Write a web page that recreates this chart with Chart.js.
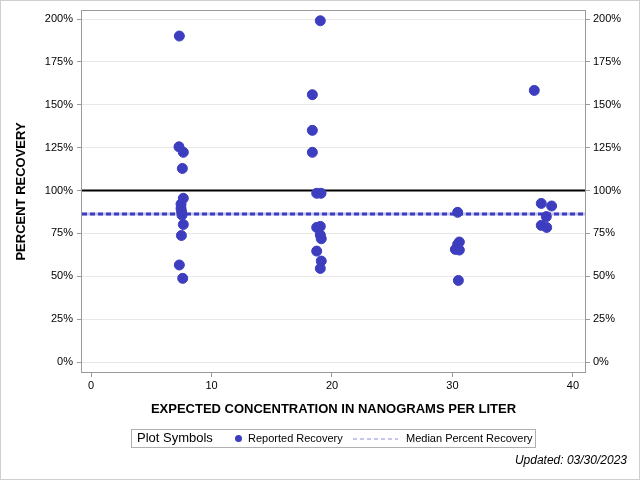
<!DOCTYPE html>
<html>
<head>
<meta charset="utf-8">
<script src="https://cdn.jsdelivr.net/npm/chart.js@4.4.0/dist/chart.umd.min.js"></script>
<style>
  html, body { margin: 0; padding: 0; background: #fff; }
  #wrap { width: 640px; height: 480px; position: relative; }
</style>
</head>
<body>
<div id="wrap"><canvas id="recoveryChart"></canvas></div>
<script>
// Expected concentration (ng/L) and percent recovery of each reported sample
const expectedConc = [
  7.33, 7.30, 7.66, 7.58, 7.66, 7.47, 7.47, 7.52, 7.55, 7.66, 7.50, 7.33, 7.61,
  19.03, 18.37, 18.37, 18.37, 18.73, 19.09, 18.73, 19.03, 19.03, 19.11, 18.73, 19.11, 19.03,
  30.43, 30.57, 30.43, 30.24, 30.57, 30.49,
  36.79, 37.37, 38.23, 37.79, 37.37, 37.82
];
const percentRecovery = [
  190.1, 125.5, 122.3, 112.9, 95.5, 92.1, 89.6, 87.6, 85.7, 80.2, 73.8, 56.6, 48.8,
  199.0, 155.9, 135.1, 122.3, 98.4, 98.4, 78.5, 79.1, 74.1, 71.9, 64.7, 58.9, 54.6,
  87.3, 70.0, 68.6, 65.7, 65.3, 47.6,
  158.4, 92.5, 91.0, 84.8, 79.7, 78.5
];

const referenceRecovery = 100;
const medianRecovery = 86.3;

const xTicks = [0, 10, 20, 30, 40];
const yTicks = [0, 25, 50, 75, 100, 125, 150, 175, 200];
const xRange = [-0.75, 41.0];
const yRange = [-5.8, 204.7];

const seriesNames = ['Reported Recovery', 'Median Percent Recovery'];
const legendTitle = 'Plot Symbols';
const updatedText = 'Updated: 03/30/2023';

const BLUE = '#3d3dbf';
const SANS = '"Liberation Sans", Arial, sans-serif';

const points = expectedConc.map((x, i) => ({ x: x, y: percentRecovery[i] }));
const hLine = v => [{ x: xRange[0], y: v }, { x: xRange[1], y: v }];

// frame, legend box, footnote and outer border
const decorations = {
  id: 'decorations',
  afterDraw(chart) {
    const ctx = chart.ctx;
    const a = chart.chartArea;
    ctx.save();
    ctx.strokeStyle = '#9a9a9a';
    ctx.lineWidth = 1;
    ctx.strokeRect(a.left - 0.5, a.top - 0.5, a.right - a.left + 1, a.bottom - a.top + 1);

    ctx.strokeStyle = '#cfcfcf';
    ctx.strokeRect(0.5, 0.5, chart.width - 1, chart.height - 1);

    // legend
    const ly = 438.5;
    ctx.strokeStyle = '#b0b0b0';
    ctx.strokeRect(131.5, 429.5, 404, 18);
    ctx.fillStyle = '#000';
    ctx.textBaseline = 'middle';
    ctx.font = '13px ' + SANS;
    ctx.fillText(legendTitle, 137, ly);
    ctx.fillStyle = BLUE;
    ctx.beginPath();
    ctx.arc(238.5, ly, 3.5, 0, Math.PI * 2);
    ctx.fill();
    ctx.fillStyle = '#000';
    ctx.font = '11px ' + SANS;
    ctx.fillText(seriesNames[0], 248, ly);
    ctx.strokeStyle = '#8c8cdc';
    ctx.setLineDash([4, 3]);
    ctx.beginPath();
    ctx.moveTo(353, 439);
    ctx.lineTo(398, 439);
    ctx.stroke();
    ctx.setLineDash([]);
    ctx.fillText(seriesNames[1], 406, ly);

    ctx.font = 'italic 12px ' + SANS;
    ctx.textAlign = 'right';
    ctx.fillText(updatedText, 627, 461);
    ctx.restore();
  }
};

const tickFont = { family: SANS, size: 11 };
const titleFont = { family: SANS, size: 13, weight: 'bold' };

new Chart(document.getElementById('recoveryChart'), {
  type: 'scatter',
  data: {
    datasets: [
      {
        label: seriesNames[0],
        data: points,
        backgroundColor: BLUE,
        borderColor: BLUE,
        pointRadius: 5,
        order: 0
      },
      {
        label: 'Reference',
        type: 'line',
        data: hLine(referenceRecovery),
        borderColor: '#000',
        borderWidth: 2,
        pointRadius: 0,
        order: 1
      },
      {
        label: seriesNames[1],
        type: 'line',
        data: hLine(medianRecovery),
        borderColor: BLUE,
        borderWidth: 3,
        borderDash: [5, 3],
        pointRadius: 0,
        order: 2
      },
      {
        label: 'median underlay',
        type: 'line',
        data: hLine(medianRecovery),
        borderColor: '#c4c4ee',
        borderWidth: 3,
        pointRadius: 0,
        order: 3
      }
    ]
  },
  options: {
    responsive: true,
    maintainAspectRatio: false,
    animation: false,
    layout: { padding: { top: 11, left: 0, right: 0, bottom: 0 } },
    plugins: {
      legend: { display: false },
      tooltip: { enabled: false }
    },
    scales: {
      x: {
        type: 'linear',
        min: xRange[0],
        max: xRange[1],
        afterBuildTicks: s => { s.ticks = xTicks.map(v => ({ value: v })); },
        afterFit: s => { s.height = 108; },
        grid: { drawOnChartArea: false, tickLength: 5, tickColor: '#9a9a9a' },
        border: { display: false },
        ticks: { font: tickFont, color: '#000', padding: 2 },
        title: {
          display: true,
          text: 'EXPECTED CONCENTRATION IN NANOGRAMS PER LITER',
          font: titleFont,
          color: '#000',
          padding: { top: 0, bottom: 63 }
        }
      },
      y: {
        type: 'linear',
        position: 'left',
        min: yRange[0],
        max: yRange[1],
        afterBuildTicks: s => { s.ticks = yTicks.map(v => ({ value: v })); },
        afterFit: s => { s.width = 82; },
        grid: { color: '#e8e8e8', tickLength: 5, tickColor: '#9a9a9a' },
        border: { display: false },
        ticks: { font: tickFont, color: '#000', padding: 4, callback: v => v + '%' },
        title: {
          display: true,
          text: 'PERCENT RECOVERY',
          font: titleFont,
          color: '#000',
          padding: { top: 14, bottom: 0 }
        }
      },
      y2: {
        type: 'linear',
        position: 'right',
        min: yRange[0],
        max: yRange[1],
        afterBuildTicks: s => { s.ticks = yTicks.map(v => ({ value: v })); },
        afterFit: s => { s.width = 55; },
        grid: { drawOnChartArea: false, tickLength: 5, tickColor: '#9a9a9a' },
        border: { display: false },
        ticks: { font: tickFont, color: '#000', padding: 3, callback: v => v + '%' }
      }
    }
  },
  plugins: [decorations]
});
</script>
</body>
</html>
